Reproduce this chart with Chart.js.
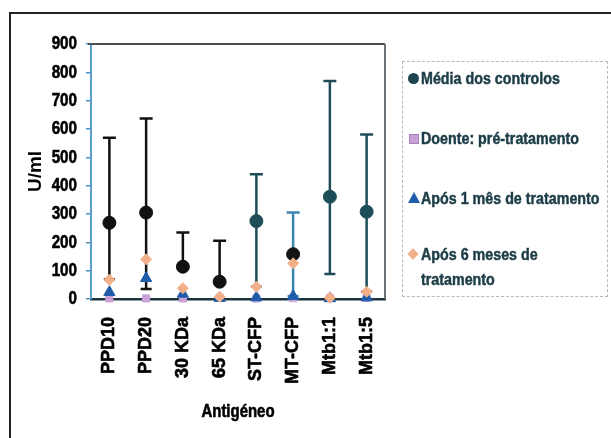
<!DOCTYPE html>
<html>
<head>
<meta charset="utf-8">
<script src="https://cdn.jsdelivr.net/npm/chart.js@4.4.1/dist/chart.umd.min.js"></script>
<style>
  html, body { margin: 0; padding: 0; background: #fff; }
  #wrap { position: relative; width: 611px; height: 438px; overflow: hidden; background: #fff; }
  #c { position: absolute; left: 0; top: 0; }
  .frame-top { position: absolute; left: 9px; top: 12px; width: 602px; height: 2px; background: #222; }
  .frame-left { position: absolute; left: 9px; top: 12px; width: 2px; height: 426px; background: #222; }
  #legend { position: absolute; left: 402px; top: 61px; width: 206px; height: 236px;
            border: 1px dashed #b9b9b9; box-sizing: border-box; }
  .item { position: absolute; left: 0; white-space: nowrap; }
  .txt { position: absolute; left: 18px; top: 0; white-space: nowrap;
         font: bold 17px "Liberation Sans", Arial, sans-serif; color: #1c3d48; line-height: 25px;
         -webkit-text-stroke: 0.5px #1c3d48;
         transform: scaleX(0.84); transform-origin: 0 0; }
  .mk { position: absolute; }
  .mk.circle { width: 11px; height: 11px; border-radius: 50%; background: #1d4550; left: 5px; top: 7px; }
  .mk.square { width: 8px; height: 8px; background: #c9a0d8; border: 1px solid #a883bb; left: 6px; top: 8px; }
  .mk.triangle { width: 0; height: 0; border-left: 6px solid transparent; border-right: 6px solid transparent;
                 border-bottom: 11px solid #1f5dab; left: 5px; top: 6px; }
  .mk.diamond { width: 8px; height: 8px; background: #f2b08a; transform: rotate(45deg); left: 6px; top: 8px; }
</style>
</head>
<body>
<div id="wrap">
  <canvas id="c" width="611" height="438"></canvas>
  <div class="frame-top"></div>
  <div class="frame-left"></div>
  <div id="legend"></div>
</div>
<script>
// Antigens on the x axis
const antigens = ['PPD10', 'PPD20', '30 KDa', '65 KDa', 'ST-CFP', 'MT-CFP', 'Mtb1:1', 'Mtb1:5'];

// Series names
const seriesNames = ['Média dos controlos', 'Doente: pré-tratamento', 'Após 1 mês de tratamento', 'Após 6 meses de tratamento'];

// Control mean (U/ml) with error bar ends
const controlMean = [269, 305, 114, 61, 275, 158, 361, 308];
const controlHigh = [569, 637, 235, 206, 440, 305, 769, 581];
const controlLow  = [70, 35, 106, 54, 43, 10, 88, 26];

// Patient values (U/ml)
const preTreatment   = [2, 2, 2, 4, 2, 3, 4, 4];
const afterOneMonth  = [24, 73, 18, 3, 5, 10, 2, 5];
const afterSixMonths = [68, 140, 38, 8, 43, 126, 4, 26];

// Y axis ticks and axis titles
const yTicks = [0, 100, 200, 300, 400, 500, 600, 700, 800, 900];
const xTitle = 'Antigéneo';
const yTitle = 'U/ml';

const meanColors = ['#111111', '#111111', '#111111', '#111111', '#1d4d57', '#141414', '#1d4d57', '#1d4d57'];
const barColors  = ['#111111', '#111111', '#111111', '#111111', '#1e4d57', '#3b86b0', '#1e4d57', '#1e4d57'];

const regular = '"Liberation Sans", Arial, sans-serif';

// Error bars for the control series, drawn beneath the markers
const errorBars = {
  id: 'errorBars',
  beforeDatasetsDraw(chart) {
    const { ctx, scales: { x, y } } = chart;
    ctx.save();
    ctx.lineWidth = 2.5;
    controlMean.forEach((m, i) => {
      const px = x.getPixelForValue(i);
      const yh = y.getPixelForValue(controlHigh[i]);
      const yl = y.getPixelForValue(controlLow[i]);
      ctx.strokeStyle = barColors[i];
      ctx.beginPath();
      ctx.moveTo(px, yh); ctx.lineTo(px, yl);
      ctx.moveTo(px - 6.5, yh); ctx.lineTo(px + 6.5, yh);
      ctx.moveTo(px - 5.5, yl); ctx.lineTo(px + 5.5, yl);
      ctx.stroke();
    });
    ctx.restore();
  }
};

// Top and right edges of the plot box
const plotBox = {
  id: 'plotBox',
  beforeDatasetsDraw(chart) {
    const { ctx, chartArea: a } = chart;
    ctx.save();
    ctx.lineWidth = 2;
    ctx.strokeStyle = '#4a4f55';
    ctx.beginPath();
    ctx.moveTo(a.left - 3, a.top); ctx.lineTo(a.right, a.top);
    ctx.stroke();
    ctx.strokeStyle = '#6c7378';
    ctx.beginPath();
    ctx.moveTo(a.right, a.top); ctx.lineTo(a.right, a.bottom);
    ctx.stroke();
    ctx.restore();
  }
};

// Condensed bold text for the value ticks and the x title
const condensedText = {
  id: 'condensedText',
  afterDraw(chart) {
    const { ctx, scales: { x, y } } = chart;
    ctx.save();
    ctx.fillStyle = '#000';
    ctx.strokeStyle = '#000';
    ctx.lineWidth = 0.6;
    ctx.textBaseline = 'middle';
    ctx.font = 'bold 19px ' + regular;
    ctx.textAlign = 'right';
    y.ticks.forEach(t => {
      const py = y.getPixelForValue(t.value);
      ctx.save();
      ctx.translate(y.right - 14, py);
      ctx.scale(0.8, 1);
      ctx.fillText(String(t.value), 0, 0);
      ctx.strokeText(String(t.value), 0, 0);
      ctx.restore();
    });
    ctx.font = 'bold 18px ' + regular;
    ctx.textAlign = 'center';
    ctx.save();
    ctx.translate((x.left + x.right) / 2, 412);
    ctx.scale(0.83, 1);
    ctx.fillText(xTitle, 0, 0);
    ctx.strokeText(xTitle, 0, 0);
    ctx.restore();
    ctx.restore();
  }
};

const pointSet = (label, data, style, color, radius, order) => ({
  type: 'line', label, data, showLine: false, clip: false, order,
  pointStyle: style, pointRadius: radius, pointHoverRadius: radius,
  pointBackgroundColor: color, pointBorderColor: color, pointBorderWidth: 1
});

new Chart(document.getElementById('c'), {
  type: 'line',
  data: {
    labels: antigens,
    datasets: [
      pointSet(seriesNames[0], controlMean, 'circle', meanColors, 6.5, 4),
      pointSet(seriesNames[1], preTreatment, 'rect', '#c9a0d8', 5, 3),
      pointSet(seriesNames[2], afterOneMonth, 'triangle', '#1f5dab', 6.5, 2),
      pointSet(seriesNames[3], afterSixMonths, 'rectRot', '#f2b08a', 5.5, 1)
    ]
  },
  options: {
    responsive: false,
    animation: false,
    devicePixelRatio: 1,
    layout: { padding: { left: 0, top: 44, right: 226, bottom: 0 } },
    plugins: { legend: { display: false }, tooltip: { enabled: false } },
    scales: {
      x: {
        type: 'category',
        offset: true,
        grid: { display: false, drawTicks: false },
        border: { display: true, color: '#1e3540', width: 2.5 },
        ticks: {
          maxRotation: 90, minRotation: 90, padding: 18, autoSkip: false,
          color: '#000', textStrokeColor: '#000', textStrokeWidth: 0.6,
          font: { family: regular, size: 18, weight: 'bold' }
        },
        afterFit(scale) { scale.height = 139; }
      },
      y: {
        min: 0, max: 900,
        afterBuildTicks(scale) { scale.ticks = yTicks.map(v => ({ value: v })); },
        grid: { display: true, drawOnChartArea: false, drawTicks: true, tickLength: 5, color: '#4d8fc0', lineWidth: 1.5 },
        border: { display: true, color: '#5a9fce', width: 2 },
        ticks: { display: false },
        title: {
          display: true, text: yTitle, color: '#000',
          font: { family: regular, size: 19, weight: 'bold' },
          padding: { top: 24, bottom: 0 }
        },
        afterFit(scale) { scale.width = 91; }
      }
    }
  },
  plugins: [errorBars, plotBox, condensedText]
});

// Legend entries
const legendShapes = ['circle', 'square', 'triangle', 'diamond'];
const legendTops = [4, 64, 124, 180];
const legendEl = document.getElementById('legend');
seriesNames.forEach((name, i) => {
  const item = document.createElement('div');
  item.className = 'item';
  item.style.top = legendTops[i] + 'px';
  const mk = document.createElement('span');
  mk.className = 'mk ' + legendShapes[i];
  item.appendChild(mk);
  const txt = document.createElement('span');
  txt.className = 'txt';
  if (i === 3) {
    txt.appendChild(document.createTextNode('Após 6 meses de'));
    txt.appendChild(document.createElement('br'));
    txt.appendChild(document.createTextNode('tratamento'));
  } else {
    txt.appendChild(document.createTextNode(name));
  }
  item.appendChild(txt);
  legendEl.appendChild(item);
});
</script>
</body>
</html>
